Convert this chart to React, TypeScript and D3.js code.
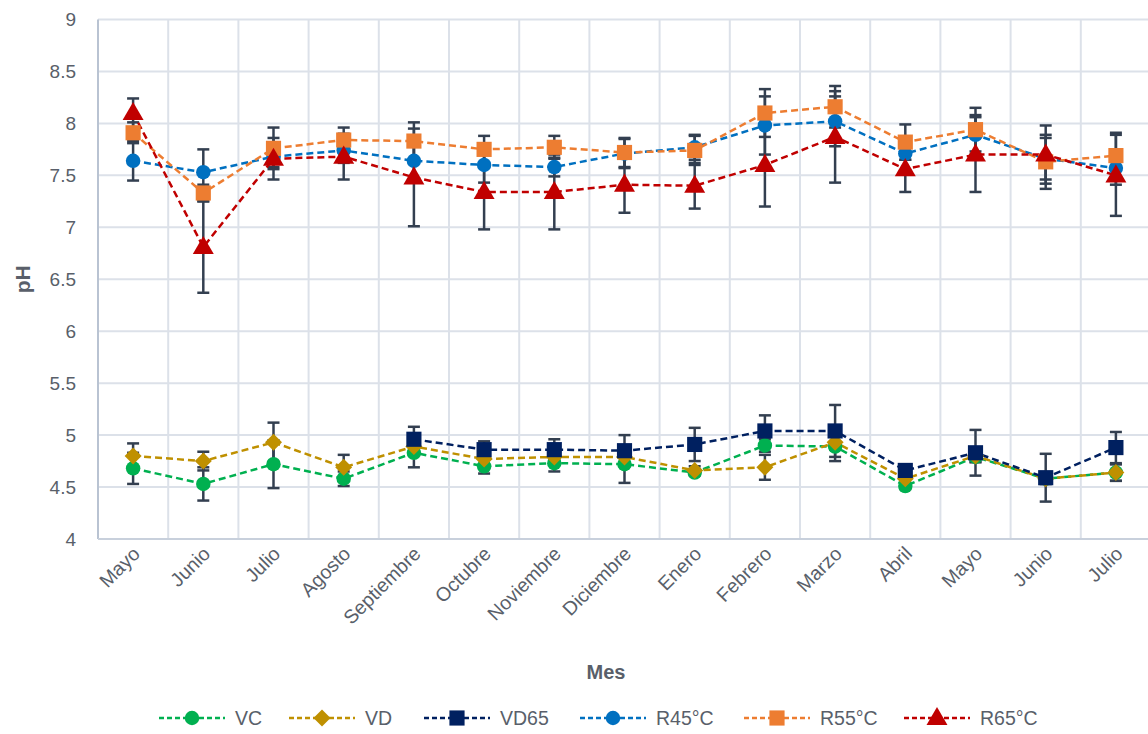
import React, { useEffect, useRef } from 'react';
import * as d3 from 'd3';

const months = ['Mayo', 'Junio', 'Julio', 'Agosto', 'Septiembre', 'Octubre', 'Noviembre', 'Diciembre', 'Enero', 'Febrero', 'Marzo', 'Abril', 'Mayo', 'Junio', 'Julio'];
const yTicks = [4, 4.5, 5, 5.5, 6, 6.5, 7, 7.5, 8, 8.5, 9];

const vc = [4.68, 4.53, 4.72, 4.58, 4.83, 4.70, 4.73, 4.72, 4.64, 4.90, 4.89, 4.51, 4.79, 4.58, 4.64];
const vcErr = [0.15, 0.16, 0.23, 0.07, 0.14, 0.07, 0.08, 0.18, 0.03, 0.06, 0.14, 0.03, 0.05, 0.05, 0.08];
const vd = [4.80, 4.75, 4.93, 4.69, 4.89, 4.77, 4.79, 4.79, 4.66, 4.69, 4.93, 4.58, 4.80, 4.58, 4.64];
const vdErr = [0.12, 0.09, 0.19, 0.12, 0.08, 0.06, 0.06, 0.06, 0.04, 0.12, 0.07, 0.04, 0.06, 0.05, 0.08];
const vd65 = [null, null, null, null, 4.96, 4.86, 4.86, 4.85, 4.91, 5.04, 5.04, 4.66, 4.83, 4.59, 4.88];
const vd65Err = [0, 0, 0, 0, 0.12, 0.08, 0.10, 0.15, 0.16, 0.15, 0.25, 0.04, 0.22, 0.23, 0.15];
const r45 = [7.64, 7.53, 7.68, 7.74, 7.64, 7.60, 7.58, 7.71, 7.77, 7.98, 8.02, 7.71, 7.89, 7.66, 7.57];
const r45Err = [0.19, 0.22, 0.10, 0.12, 0.20, 0.17, 0.09, 0.14, 0.12, 0.28, 0.24, 0.06, 0.19, 0.20, 0.16];
const r55 = [7.91, 7.33, 7.76, 7.84, 7.83, 7.75, 7.77, 7.72, 7.74, 8.10, 8.16, 7.82, 7.94, 7.63, 7.69];
const r55Err = [0.10, 0.08, 0.20, 0.12, 0.18, 0.13, 0.11, 0.14, 0.14, 0.23, 0.20, 0.17, 0.21, 0.26, 0.22];
const r65 = [8.10, 6.81, 7.66, 7.68, 7.48, 7.34, 7.34, 7.41, 7.40, 7.60, 7.87, 7.56, 7.70, 7.70, 7.50];
const r65Err = [0.14, 0.44, 0.20, 0.22, 0.47, 0.36, 0.36, 0.27, 0.22, 0.40, 0.44, 0.22, 0.36, 0.28, 0.39];

type Shape = 'circle' | 'diamond' | 'square' | 'triangle';
interface Series { name: string; color: string; shape: Shape; values: (number | null)[]; err: number[] }

const series: Series[] = [
  { name: 'VC', color: '#00b050', shape: 'circle', values: vc, err: vcErr },
  { name: 'VD', color: '#bf9000', shape: 'diamond', values: vd, err: vdErr },
  { name: 'VD65', color: '#002060', shape: 'square', values: vd65, err: vd65Err },
  { name: 'R45°C', color: '#0070c0', shape: 'circle', values: r45, err: r45Err },
  { name: 'R55°C', color: '#ed7d31', shape: 'square', values: r55, err: r55Err },
  { name: 'R65°C', color: '#c00000', shape: 'triangle', values: r65, err: r65Err },
];

const width = 1148;
const height = 734;
const textColor = '#595f6a';
const font = '"Liberation Sans", Arial, sans-serif';

const symbolFor = (shape: Shape) => {
  if (shape === 'circle') return d3.symbol(d3.symbolCircle, 165)();
  if (shape === 'diamond') return 'M0,-8.5L8.5,0L0,8.5L-8.5,0Z';
  if (shape === 'square') return d3.symbol(d3.symbolSquare, 230)();
  return d3.symbol(d3.symbolTriangle, 190)();
};

export default function App() {
  const svgRef = useRef<SVGSVGElement>(null);

  useEffect(() => {
    if (!svgRef.current) return;
    const svg = d3.select(svgRef.current);
    svg.selectAll('*').remove();

    const left = 98;
    const right = 1151;
    const top = 19.5;
    const bottom = 539;

    const x = d3.scaleBand<number>().domain(d3.range(months.length)).range([left, right]);
    const cx = (i: number) => (x(i) as number) + x.bandwidth() / 2;
    const y = d3.scaleLinear().domain([4, 9]).range([bottom, top]);

    // Grid
    const grid = svg.append('g');
    grid.selectAll('line.h')
      .data(yTicks.slice(1))
      .join('line')
      .attr('x1', left).attr('x2', right)
      .attr('y1', d => y(d)).attr('y2', d => y(d))
      .attr('stroke', '#dce1e9').attr('stroke-width', 2);
    grid.selectAll('line.v')
      .data(d3.range(1, months.length + 1))
      .join('line')
      .attr('x1', d => left + d * x.step()).attr('x2', d => left + d * x.step())
      .attr('y1', top).attr('y2', bottom)
      .attr('stroke', '#dce1e9').attr('stroke-width', 2);

    // Axes lines
    svg.append('line')
      .attr('x1', left).attr('x2', left).attr('y1', top).attr('y2', bottom)
      .attr('stroke', '#b9c3d2').attr('stroke-width', 2);
    svg.append('line')
      .attr('x1', left).attr('x2', right).attr('y1', bottom).attr('y2', bottom)
      .attr('stroke', '#c8d0dc').attr('stroke-width', 2);

    // Y tick labels
    svg.append('g').selectAll('text')
      .data(yTicks)
      .join('text')
      .attr('x', 76).attr('y', d => y(d) + 6.5)
      .attr('text-anchor', 'end')
      .attr('font-family', font).attr('font-size', 19)
      .attr('fill', textColor)
      .text(d => String(d));

    // X tick labels
    svg.append('g').selectAll('text')
      .data(months)
      .join('text')
      .attr('text-anchor', 'end')
      .attr('transform', (_, i) => `translate(${cx(i) + 8},${bottom + 16}) rotate(-45)`)
      .attr('font-family', font).attr('font-size', 19.5)
      .attr('fill', textColor)
      .text(d => d);

    // Axis titles
    svg.append('text')
      .attr('transform', `translate(30,${(top + bottom) / 2}) rotate(-90)`)
      .attr('text-anchor', 'middle')
      .attr('font-family', font).attr('font-size', 21).attr('font-weight', 'bold')
      .attr('fill', textColor)
      .text('pH');
    svg.append('text')
      .attr('x', 606).attr('y', 679)
      .attr('text-anchor', 'middle')
      .attr('font-family', font).attr('font-size', 20).attr('font-weight', 'bold')
      .attr('fill', textColor)
      .text('Mes');

    // Error bars
    const errG = svg.append('g').attr('stroke', '#333f50').attr('stroke-width', 2.5);
    series.forEach(s => {
      s.values.forEach((v, i) => {
        if (v == null) return;
        const e = s.err[i];
        errG.append('line').attr('x1', cx(i)).attr('x2', cx(i)).attr('y1', y(v + e)).attr('y2', y(v - e));
        [v + e, v - e].forEach(c => {
          errG.append('line').attr('x1', cx(i) - 6).attr('x2', cx(i) + 6).attr('y1', y(c)).attr('y2', y(c));
        });
      });
    });

    // Lines
    series.forEach(s => {
      const line = d3.line<number | null>()
        .defined(d => d != null)
        .x((_, i) => cx(i))
        .y(d => y(d as number));
      svg.append('path')
        .datum(s.values)
        .attr('fill', 'none')
        .attr('stroke', s.color)
        .attr('stroke-width', 2.5)
        .attr('stroke-dasharray', '7,4')
        .attr('d', line);
    });

    // Markers
    series.forEach(s => {
      svg.append('g').selectAll('path')
        .data(s.values.map((v, i) => ({ v, i })).filter(d => d.v != null))
        .join('path')
        .attr('d', symbolFor(s.shape))
        .attr('transform', d => `translate(${cx(d.i)},${y(d.v as number) + (s.shape === 'triangle' ? 1 : 0)})`)
        .attr('fill', s.color);
    });

    // Legend
    const legendX = [159, 289, 424, 580, 744, 904];
    const legendY = 718;
    series.forEach((s, i) => {
      const lg = svg.append('g').attr('transform', `translate(${legendX[i]},${legendY})`);
      lg.append('line')
        .attr('x1', 0).attr('x2', 66).attr('y1', 0).attr('y2', 0)
        .attr('stroke', s.color).attr('stroke-width', 2.5).attr('stroke-dasharray', '5,3');
      lg.append('path')
        .attr('d', symbolFor(s.shape))
        .attr('transform', `translate(33,${s.shape === 'triangle' ? 1 : 0})`)
        .attr('fill', s.color);
      lg.append('text')
        .attr('x', 76).attr('y', 7)
        .attr('font-family', font).attr('font-size', 19.5)
        .attr('fill', textColor)
        .text(s.name);
    });
  }, []);

  return (
    <svg
      ref={svgRef}
      width={width}
      height={height}
      style={{ position: 'absolute', left: 0, top: 0, background: '#fff' }}
    />
  );
}
